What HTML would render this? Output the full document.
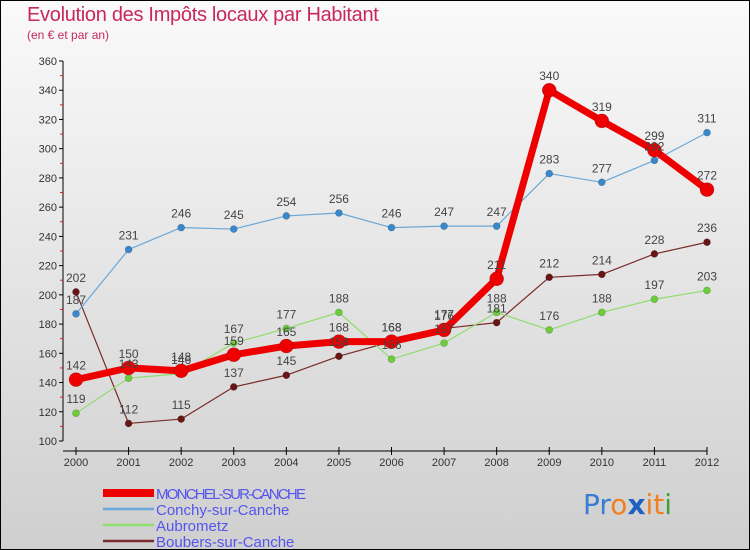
<!DOCTYPE html>
<html><head><meta charset="utf-8"><style>
body{margin:0;}
#wrap{position:relative;width:748px;height:548px;border:1px solid #000;background:linear-gradient(#fafafa,#cfcfcf);font-family:"Liberation Sans",sans-serif;overflow:hidden;}
.t{position:absolute;color:#c8285a;}
</style></head><body>
<div id="wrap">
<div class="t" style="left:26px;top:3px;font-size:20px;letter-spacing:-0.3px;">Evolution des Impôts locaux par Habitant</div>
<div class="t" style="left:26px;top:27px;font-size:12px;">(en € et par an)</div>
<svg id="c" width="748" height="548" style="position:absolute;left:0;top:0"></svg>
<div style="position:absolute;left:582px;top:487px;font-size:28px;font-family:'DejaVu Sans',sans-serif;"><span style="color:#3a7bd5">Pr</span><span style="color:#f08020">o</span><span style="color:#2060c0;font-weight:bold">x</span><span style="color:#f08020">it</span><span style="color:#40a040">i</span></div>
</div>
<script>
const years=[2000,2001,2002,2003,2004,2005,2006,2007,2008,2009,2010,2011,2012];
const monchel=[142,150,148,159,165,168,168,176,211,340,319,299,272];
const conchy=[187,231,246,245,254,256,246,247,247,283,277,292,311];
const aubrometz=[119,143,146,167,177,188,156,167,188,176,188,197,203];
const boubers=[202,112,115,137,145,158,168,177,181,212,214,228,236];
const yTicks=[100,120,140,160,180,200,220,240,260,280,300,320,340,360];
const series=[
 {name:'Boubers-sur-Canche',d:boubers,c:'#7a2a2a',m:'#6a1515',w:1.2,r:3.5,key:'boubers'},
 {name:'Aubrometz',d:aubrometz,c:'#90dd70',m:'#6ccc3a',w:1.2,r:3.5,key:'aubrometz'},
 {name:'Conchy-sur-Canche',d:conchy,c:'#6aa8d8',m:'#3a88cc',w:1.2,r:3.5,key:'conchy'},
 {name:'MONCHEL-SUR-CANCHE',d:monchel,c:'#ee0000',m:'#ee0000',w:7,r:7,key:'monchel'}];
const X=i=>75+i*(706-75)/(years.length-1);
const Y=v=>440-(v-100)*(380/260);
const svg=document.getElementById('c');const NS='http://www.w3.org/2000/svg';
function el(t,a,p){const e=document.createElementNS(NS,t);for(const k in a)e.setAttribute(k,a[k]);(p||svg).appendChild(e);return e;}
let e;
e=el('line',{x1:62,y1:60,x2:62,y2:440,stroke:'#000'});
e=el('line',{x1:62,y1:450,x2:706,y2:450,stroke:'#000'});
yTicks.forEach((v,i)=>{el('line',{x1:58,y1:Y(v),x2:62,y2:Y(v),stroke:'#000'});
 if(i<yTicks.length-1)el('line',{x1:59,y1:Y(v+10),x2:62,y2:Y(v+10),stroke:'#e02020'});
 e=el('text',{x:56,y:Y(v)+4,'text-anchor':'end','font-size':11,fill:'#333'});e.textContent=v;
 });
years.forEach((y,i)=>{el('line',{x1:X(i),y1:446,x2:X(i),y2:454,stroke:'#000'});
 e=el('text',{x:X(i),y:465,'text-anchor':'middle','font-size':11,fill:'#333'});e.textContent=y;
 });
series.forEach(s=>{
 const g=el('g',{});
 el('polyline',{points:s.d.map((v,i)=>X(i)+','+Y(v)).join(' '),fill:'none',stroke:s.c,'stroke-width':s.w,'stroke-linejoin':'round'},g);
 s.d.forEach((v,i)=>{e=el('circle',{cx:X(i),cy:Y(v),r:s.r,fill:s.m,stroke:'rgba(0,0,0,0.25)','stroke-width':0.6},g);
  });
});
series.forEach(s=>{s.d.forEach((v,i)=>{e=el('text',{x:X(i),y:Y(v)-10,'text-anchor':'middle','font-size':12,fill:'#444'});e.textContent=v;
 });});
const leg=[...series].reverse();
leg.forEach((s,i)=>{const y=492+i*16;
 const g=el('g',{});
 el('line',{x1:102,y1:y,x2:153,y2:y,stroke:s.c,'stroke-width':i==0?8:2.5},g);
 const t=el('text',{x:155,y:y+6,'font-size':15,fill:'#5555ee',textLength:i==0?150:undefined},g);t.textContent=s.name;
 if(i!=0)t.removeAttribute('textLength');});
</script>
</body></html>
